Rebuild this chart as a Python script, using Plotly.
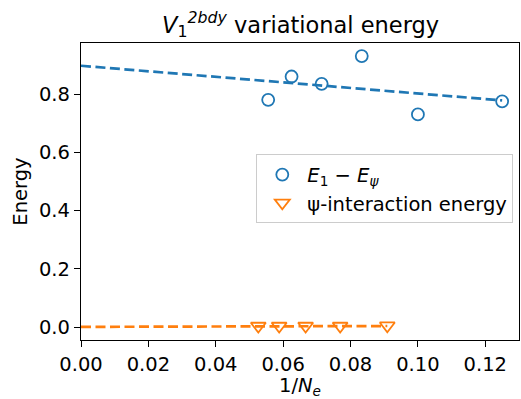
import plotly.graph_objects as go

# data
x_e1 = [0.125, 0.1, 0.08333, 0.07143, 0.0625, 0.05556]
y_e1 = [0.775, 0.73, 0.93, 0.835, 0.86, 0.78]
x_psi = [0.05263, 0.05882, 0.06667, 0.07692, 0.09091]
y_psi = [0.004, 0.004, 0.004, 0.004, 0.005]
fit_e1_x = [0.0, 0.125]
fit_e1_y = [0.897, 0.778]
fit_psi_x = [0.0, 0.09091]
fit_psi_y = [0.001, 0.004]

blue = "#1f77b4"
orange = "#ff7f0e"
FONT = "DejaVu Sans"
FS = 19.5

fig = go.Figure()
fig.add_trace(go.Scatter(x=fit_e1_x, y=fit_e1_y, mode="lines",
                         line=dict(color=blue, width=2.7, dash="10px,4.5px"), showlegend=False))
fig.add_trace(go.Scatter(x=fit_psi_x, y=fit_psi_y, mode="lines",
                         line=dict(color=orange, width=2.7, dash="10px,4.5px"), showlegend=False))
fig.add_trace(go.Scatter(x=x_e1, y=y_e1, mode="markers",
                         marker=dict(symbol="circle-open", size=12, color=blue, line=dict(width=1.8)),
                         name="<i>E</i><sub>1</sub> − <i>E</i><sub><i>ψ</i></sub>"))
fig.add_trace(go.Scatter(x=x_psi, y=y_psi, mode="markers",
                         marker=dict(symbol="triangle-down-open", size=13, color=orange, line=dict(width=1.8)),
                         name="ψ-interaction energy"))

axis_common = dict(showgrid=False, zeroline=False, showline=True, linecolor="black", linewidth=1.4,
                   mirror=True, ticks="outside", ticklen=6, tickwidth=1.4, tickcolor="black",
                   tickfont=dict(family=FONT, size=FS, color="black"))
fig.update_xaxes(range=[0, 0.13], tickvals=[0, 0.02, 0.04, 0.06, 0.08, 0.10, 0.12],
                 ticktext=["0.00", "0.02", "0.04", "0.06", "0.08", "0.10", "0.12"],
                 title=dict(text="1/<i>N</i><sub><i>e</i></sub>", font=dict(family=FONT, size=FS, color="black"), standoff=9),
                 **axis_common)
fig.update_yaxes(range=[-0.044, 0.975], tickvals=[0, 0.2, 0.4, 0.6, 0.8],
                 ticktext=["0.0", "0.2", "0.4", "0.6", "0.8"],
                 title=dict(text="Energy", font=dict(family=FONT, size=FS, color="black"), standoff=6),
                 **axis_common)

fig.update_layout(
    width=521, height=399,
    margin=dict(l=81, r=1, t=43, b=57),
    plot_bgcolor="white", paper_bgcolor="white",
    font=dict(family=FONT, size=FS, color="black"),
    title=dict(text="<i>V</i><sub>1</sub><sup><i>2bdy</i></sup> variational energy",
               x=0.577, xanchor="center", y=0.918, yanchor="bottom",
               font=dict(family=FONT, size=22.5, color="black")),
    legend=dict(x=0.987, y=0.625, xanchor="right", yanchor="top",
                bgcolor="rgba(255,255,255,0.8)", bordercolor="#cccccc", borderwidth=1,
                font=dict(family=FONT, size=FS, color="black"), itemwidth=40,
                tracegroupgap=4),
)

fig.write_html("out.html")
